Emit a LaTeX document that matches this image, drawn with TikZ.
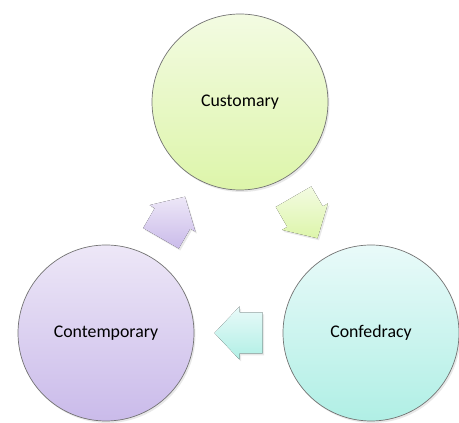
\documentclass[tikz,border=0pt]{standalone}
\usepackage{fontspec}
\setmainfont{Carlito}
\usetikzlibrary{calc,shadows}
\definecolor{GT}{RGB}{243,251,226}
\definecolor{GB}{RGB}{221,245,170}
\definecolor{PT}{RGB}{237,231,247}
\definecolor{PB}{RGB}{202,187,234}
\definecolor{CT}{RGB}{233,250,249}
\definecolor{CB}{RGB}{176,239,229}
\tikzset{
  stage/.style={circle, minimum size=176pt, inner sep=0pt, draw=black!55, line width=0.7pt,
    font=\fontsize{17.8}{20}\selectfont,
    drop shadow={opacity=0.18, shadow xshift=1.5pt, shadow yshift=-2pt}},
  arrowshade/.style={drop shadow={opacity=0.18, shadow xshift=1.5pt, shadow yshift=-2pt}}
}
\newcommand{\cyclenode}[5]{\node[stage, top color=#4, bottom color=#5] (#1) at #2 {#3};}
\newcommand{\cyclearrow}[5]{
\begin{scope}[shift={($(#1)!0.5!(#2)$)}, rotate=#3]
\fill[arrowshade, top color=#4, bottom color=#5] (24,0)--(-1,26.5)--(-1,20.5)--(-24,20.5)--(-24,-20.5)--(-1,-20.5)--(-1,-26.5)--cycle;
\end{scope}
}

\begin{document}
\begin{tikzpicture}[x=1pt, y=1pt]
\useasboundingbox (0,0) rectangle (459,423);
\cyclenode{cust}{(240,321)}{Customary}{GT}{GB}
\cyclenode{conf}{(371,90)}{Confedracy}{CT}{CB}
\cyclenode{cont}{(106,90)}{Contemporary}{PT}{PB}
\cyclearrow{cust}{conf}{-60}{GT}{GB}
\cyclearrow{conf}{cont}{180}{CT}{CB}
\cyclearrow{cont}{cust}{60}{PT}{PB}
\end{tikzpicture}
\end{document}
